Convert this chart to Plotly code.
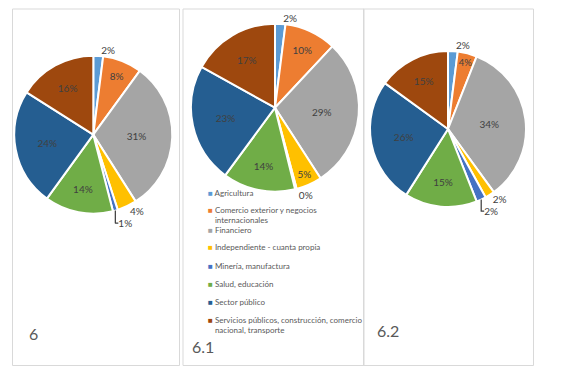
import plotly.graph_objects as go

categories = [
    "Agricultura",
    "Comercio exterior y negocios<br>internacionales",
    "Financiero",
    "Independiente - cuanta propia",
    "Minería, manufactura",
    "Salud, educación",
    "Sector público",
    "Servicios públicos, construcción, comercio<br>nacional, transporte",
]
panel_titles = ["6", "6.1", "6.2"]
values_6 = [2, 8, 31, 4, 1, 14, 24, 16]
values_61 = [2, 10, 29, 5, 0.3, 14, 23, 17]
values_62 = [2, 4, 34, 2, 2, 15, 26, 15]

colors = ["#5B9BD5", "#ED7D31", "#A5A5A5", "#FFC000", "#4472C4", "#70AD47", "#255E91", "#9E480E"]

W, H = 566, 374
OX, OY = 8, 8  # page body margin offset
FONT = "Lato"
TXT = "#404040"

def px(x):
    return (x - OX) / W

def py(y):
    return 1 - (y - OY) / H

def dom(cx, cy, r):
    return dict(x=[px(cx - r), px(cx + r)], y=[py(cy + r), py(cy - r)])

pos_6 = ["outside", "inside", "inside", "outside", "outside", "inside", "inside", "inside"]
pos_61 = ["outside", "inside", "inside", "inside", "outside", "inside", "inside", "inside"]
pos_62 = ["outside", "inside", "inside", "outside", "outside", "inside", "inside", "inside"]

fig = go.Figure()
specs = [
    (values_6, pos_6, dom(93.3, 134.7, 79)),
    (values_61, pos_61, dom(275, 107.7, 84)),
    (values_62, pos_62, dom(448, 129, 78)),
]
for vals, pos, d in specs:
    fig.add_trace(go.Pie(
        labels=categories, values=vals, sort=False, direction="clockwise", rotation=0,
        marker=dict(colors=colors, line=dict(color="white", width=2)),
        texttemplate="%{percent:.0%}", textposition=pos,
        insidetextorientation="horizontal",
        textfont=dict(family=FONT, size=10, color=TXT),
        outsidetextfont=dict(family=FONT, size=10, color=TXT),
        insidetextfont=dict(family=FONT, size=10, color=TXT),
        domain=d, showlegend=False, hoverinfo="label+percent",
    ))

# legend: one small legend per entry so the vertical spacing follows the reference;
# the coloured square sits right before the text, as in the reference
legend_rows = [193.3, 215, 230, 247, 266, 283.7, 302, 325]
layout_legends = {}
pad = '<span style="color:rgba(0,0,0,0)">■</span> '
for i, (cat, col, yrow) in enumerate(zip(categories, colors, legend_rows)):
    key = "legend" if i == 0 else f"legend{i + 1}"
    name = f'<span style="color:{col}">■</span> ' + cat.replace("<br>", "<br>" + pad)
    fig.add_trace(go.Scatter(
        x=[None], y=[None], mode="markers", name=name,
        marker=dict(symbol="square", size=5, color="rgba(0,0,0,0)"),
        showlegend=True, hoverinfo="skip", legend=key,
    ))
    layout_legends[key] = dict(
        x=px(168), y=py(yrow), xanchor="left", yanchor="middle",
        font=dict(family=FONT, size=8, color="#595959"),
        bgcolor="rgba(0,0,0,0)", itemwidth=30, borderwidth=0,
    )

shapes = []
for x0, x1 in [(12.5, 179.5), (183, 364), (363.5, 533.5)]:
    shapes.append(dict(type="rect", xref="paper", yref="paper",
                       x0=px(x0), x1=px(x1), y0=py(365.5), y1=py(9),
                       line=dict(color="#D9D9D9", width=1), layer="below"))

annotations = []
for t, x, y in zip(panel_titles, [27, 190, 375], [333, 346, 330]):
    annotations.append(dict(text=t, x=px(x), y=py(y), xref="paper", yref="paper",
                            xanchor="left", yanchor="middle", showarrow=False,
                            font=dict(family=FONT, size=16, color="#595959")))

fig.update_layout(
    width=W, height=H, margin=dict(l=0, r=0, t=0, b=0, pad=0, autoexpand=False),
    paper_bgcolor="white", plot_bgcolor="rgba(0,0,0,0)",
    xaxis=dict(visible=False), yaxis=dict(visible=False),
    shapes=shapes, annotations=annotations,
    **layout_legends,
)
fig.write_html("out.html")
